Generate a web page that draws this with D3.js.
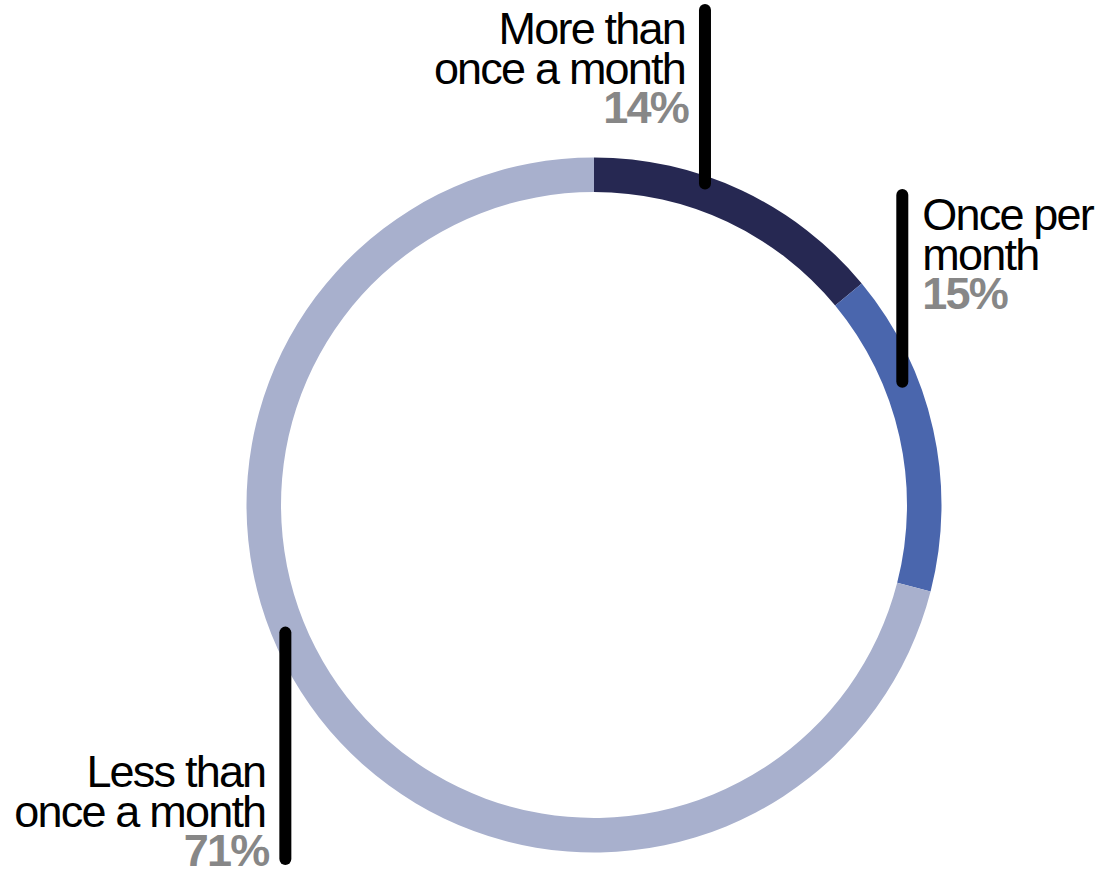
<!DOCTYPE html>
<html lang="en">
<head>
<meta charset="UTF-8">
<script src="https://d3js.org/d3.v7.min.js"></script>
<style>
body {margin: 0; background: white;}
svg {display: block;}
.lbl {font-family: "Liberation Sans", Arial, sans-serif; font-size: 45px; letter-spacing: -1.8px; fill: #000;}
.pct {font-weight: bold; fill: #878787;}
</style>
</head>
<body>
<svg width="1114" height="871"></svg>
<script>
// data
var categories = ["More than once a month", "Once per month", "Less than once a month"];
var values = [14, 15, 71];
var labelLines = [["More than", "once a month"], ["Once per", "month"], ["Less than", "once a month"]];
var colors = ["#262852", "#4a66ad", "#a8b0cd"];

var svg = d3.select("svg");
var cx = 594, cy = 505, outerR = 347.5, innerR = 313;
var g = svg.append("g").attr("transform", "translate(" + cx + "," + cy + ")");

var pie = d3.pie().sort(null).value(function(d) { return d; });
var arc = d3.arc().innerRadius(innerR).outerRadius(outerR);
var arcs = pie(values);

g.selectAll("path")
  .data(arcs)
  .enter()
  .append("path")
  .attr("d", arc)
  .style("fill", function(d, i) { return colors[i]; });

// leader layout: where the line touches the ring (fraction through the slice), free end y, text side
var leaders = [
  {t: 0.378, r: 340, endY: 10, side: "left", textY: 44},
  {t: 0.33, r: 332, endY: 195, side: "right", textY: 230},
  {t: 0.56, r: 334, endY: 859, side: "left", textY: 787}
];
var lineH = 39.5;

arcs.forEach(function(a, i) {
  var L = leaders[i];
  var ang = a.startAngle + (a.endAngle - a.startAngle) * L.t;
  var x = cx + L.r * Math.sin(ang);
  var y = cy - L.r * Math.cos(ang);
  svg.append("line")
    .attr("x1", x).attr("y1", y)
    .attr("x2", x).attr("y2", L.endY)
    .attr("stroke", "#000")
    .attr("stroke-width", 12)
    .attr("stroke-linecap", "round");

  var tx = L.side == "left" ? x - 20 : x + 20;
  var anchor = L.side == "left" ? "end" : "start";
  var lines = labelLines[i];
  lines.forEach(function(s, j) {
    svg.append("text")
      .attr("class", "lbl")
      .attr("x", tx)
      .attr("y", L.textY + j * lineH)
      .attr("text-anchor", anchor)
      .text(s);
  });
  svg.append("text")
    .attr("class", "lbl pct")
    .attr("x", L.side == "left" ? tx + 3 : tx)
    .attr("y", L.textY + lines.length * lineH)
    .attr("text-anchor", anchor)
    .text(values[i] + "%");
});
</script>
</body>
</html>
